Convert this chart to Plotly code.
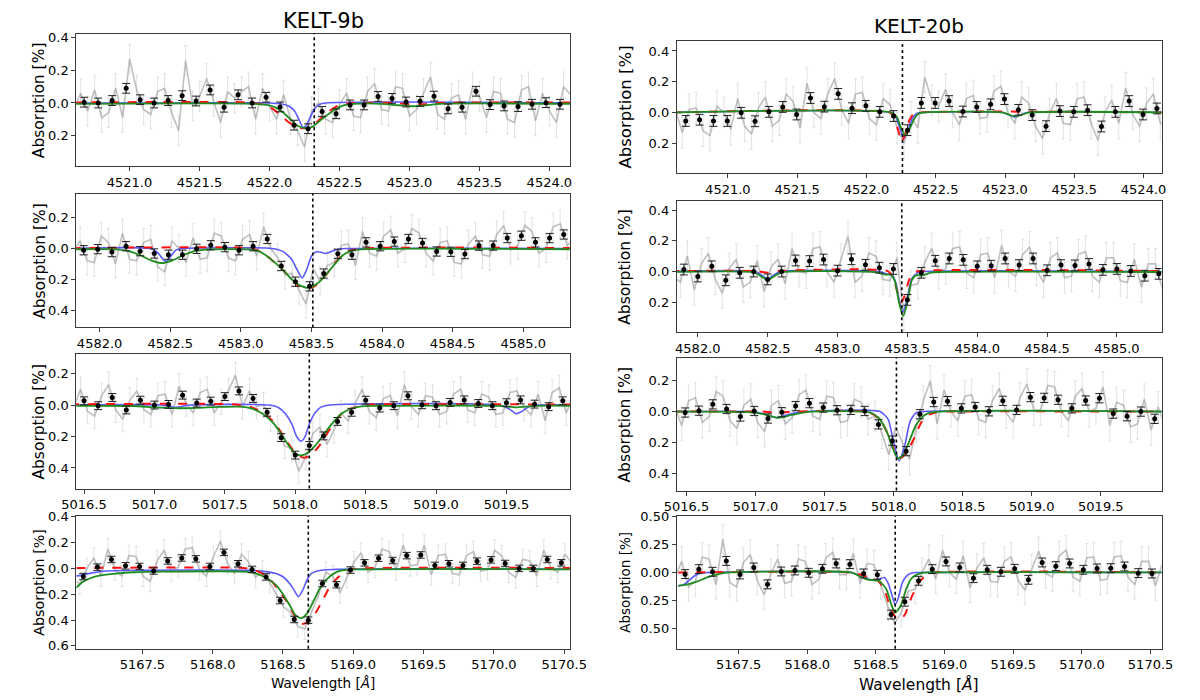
import numpy as np
import plotly.graph_objects as go

BIN_STEP = 0.1
GREY_STEP = 0.05

# =================== KELT-9b, 4522 ===================
k9a_xrange = [4520.62, 4524.146]
k9a_yrange = [0.388, -0.426]
k9a_xticks = [4521.0, 4521.5, 4522.0, 4522.5, 4523.0, 4523.5, 4524.0]
k9a_yticks = [-0.4, -0.2, 0.0, 0.2]
k9a_line = 4522.32
k9a_bin_start = 4520.676
k9a_bin_err = 0.03
k9a_bins = [-0.005, 0.0, -0.015, -0.09, -0.02, 0.0, -0.015, -0.045, -0.012, -0.08, 0.026, -0.05,
            0.0, -0.035, 0.024, 0.136, 0.158, 0.052, 0.066, 0.012, 0.012, -0.04, -0.028, -0.006,
            -0.01, -0.042, 0.036, 0.026, -0.072, 0.01, 0.018, 0.022, 0.008, -0.002, 0.008]
k9a_grey_err = 0.09
k9a_grey = [0.04,
            -0.06, 0.05, -0.08, 0.09, 0.06, -0.09, 0.09, -0.27, -0.08, 0.04, 0.07, -0.07, -0.09, 0.06,
            0.17, -0.26, 0.02, -0.04, -0.15, -0.01, 0.12, -0.07, -0.03, -0.07, -0.1, 0.1, -0.09, 0.02,
            0.1, -0.05, 0.1, 0.17, 0.27, 0.05, 0.0, 0.1, 0.12, 0.01, -0.06, 0.08, 0.09, -0.07,
            -0.12, 0.04, 0.05, -0.1, -0.09, 0.08, 0.04, -0.06, -0.16, 0.07, 0.1, -0.03, -0.05, 0.1,
            -0.1, -0.04, 0.09, -0.07, -0.06, 0.1, 0.12, -0.08, -0.1, 0.11, -0.06, 0.05, 0.12, -0.1,
            -0.05]
k9a_blue_x = [4520.60, 4522.00, 4522.08, 4522.14, 4522.18, 4522.21, 4522.24, 4522.26, 4522.29, 4522.32, 4522.35, 4522.40, 4524.20]
k9a_blue_y = [0.0, 0.0, 0.005, 0.02, 0.05, 0.10, 0.15, 0.14, 0.09, 0.04, 0.012, 0.0, 0.0]
k9a_red_x = [4520.60, 4521.85, 4521.95, 4522.02, 4522.08, 4522.14, 4522.20, 4522.26, 4522.31, 4522.36, 4522.42, 4522.47, 4522.53, 4522.60, 4522.90, 4523.0, 4523.1, 4523.2, 4524.2]
k9a_red_y = [-0.003, -0.003, 0.01, 0.035, 0.075, 0.12, 0.15, 0.155, 0.14, 0.10, 0.055, 0.025, 0.006, 0.0, 0.0, 0.008, 0.008, 0.0, -0.003]
k9a_green_x = [4520.60, 4521.90, 4521.98, 4522.05, 4522.10, 4522.15, 4522.20, 4522.26, 4522.31, 4522.36, 4522.42, 4522.47, 4522.52, 4522.60, 4522.80, 4522.92, 4523.02, 4523.12, 4523.22, 4524.2]
k9a_green_y = [0.005, 0.005, 0.012, 0.03, 0.06, 0.10, 0.14, 0.155, 0.145, 0.11, 0.07, 0.04, 0.018, 0.006, 0.005, 0.014, 0.02, 0.014, 0.005, 0.005]

# =================== KELT-9b, 4583 ===================
k9b_xrange = [4581.835, 4585.33]
k9b_yrange = [0.511, -0.355]
k9b_xticks = [4582.0, 4582.5, 4583.0, 4583.5, 4584.0, 4584.5, 4585.0]
k9b_yticks = [-0.2, 0.0, 0.2, 0.4]
k9b_line = 4583.51
k9b_bin_start = 4581.887
k9b_bin_err = 0.03
k9b_bins = [0.011, 0.004, 0.023, -0.015, 0.017, 0.032, 0.040, 0.040, 0.002, -0.021, -0.009, 0.011,
            -0.015, -0.062, 0.113, 0.215, 0.245, 0.162, 0.034, 0.040, -0.040, -0.015, -0.045, -0.062,
            -0.036, 0.019, 0.021, 0.036, -0.019, -0.019, -0.068, -0.083, -0.040, -0.068, -0.091]
k9b_grey_err = 0.09
k9b_grey = [0.02,
            -0.05, 0.08, 0.09, -0.08, -0.04, 0.1, -0.1, 0.07, 0.08, -0.04, -0.06, 0.12, 0.15, -0.05,
            0.0, 0.09, -0.07, 0.07, 0.06, -0.1, -0.08, 0.06, 0.08, -0.06, -0.09, 0.05, -0.14, 0.0,
            0.06, 0.17, 0.16, 0.27, 0.36, 0.13, 0.21, 0.11, 0.09, -0.02, -0.03, 0.11, -0.11, 0.03,
            0.05, -0.08, -0.12, 0.03, 0.0, -0.13, -0.1, 0.03, 0.08, -0.04, -0.05, 0.09, 0.1, -0.03,
            -0.08, 0.04, 0.05, -0.09, -0.15, 0.01, -0.02, -0.15, -0.11, 0.03, 0.0, -0.14, -0.16, -0.02,
            -0.07]
k9b_blue_x = [4581.8, 4582.36, 4582.41, 4582.45, 4582.47, 4582.50, 4582.54, 4582.58, 4583.22, 4583.30, 4583.36, 4583.40, 4583.435, 4583.465, 4583.50, 4583.53, 4583.56, 4583.60, 4583.64, 4583.69, 4583.75, 4585.4]
k9b_blue_y = [0.0, 0.0, 0.025, 0.07, 0.085, 0.055, 0.01, 0.0, 0.0, 0.02, 0.07, 0.14, 0.19, 0.14, 0.05, 0.022, 0.022, 0.032, 0.02, 0.005, 0.0, 0.0]
k9b_red_x = [4581.8, 4583.05, 4583.12, 4583.18, 4583.24, 4583.30, 4583.35, 4583.40, 4583.47, 4583.52, 4583.575, 4583.63, 4583.68, 4583.72, 4583.77, 4583.85, 4585.4]
k9b_red_y = [-0.003, -0.003, 0.012, 0.045, 0.09, 0.14, 0.19, 0.235, 0.26, 0.245, 0.2, 0.14, 0.08, 0.04, 0.015, 0.0, -0.003]
k9b_green_x = [4581.8, 4582.12, 4582.20, 4582.28, 4582.36, 4582.44, 4582.52, 4582.60, 4582.68, 4582.78, 4583.05, 4583.12, 4583.18, 4583.24, 4583.30, 4583.35, 4583.40, 4583.47, 4583.52, 4583.575, 4583.63, 4583.68, 4583.72, 4583.77, 4583.85, 4585.4]
k9b_green_y = [0.005, 0.005, 0.015, 0.04, 0.075, 0.095, 0.075, 0.04, 0.015, 0.005, 0.005, 0.015, 0.045, 0.09, 0.14, 0.19, 0.23, 0.255, 0.24, 0.2, 0.14, 0.085, 0.045, 0.02, 0.006, 0.005]

# =================== KELT-9b, 5018 ===================
k9c_xrange = [5016.445, 5019.95]
k9c_yrange = [0.531, -0.325]
k9c_xticks = [5016.5, 5017.0, 5017.5, 5018.0, 5018.5, 5019.0, 5019.5]
k9c_yticks = [-0.2, 0.0, 0.2, 0.4]
k9c_line = 5018.10
k9c_bin_start = 5016.50
k9c_bin_err = 0.025
k9c_bins = [-0.027, 0.004, -0.048, 0.031, -0.031, 0.0, -0.004, -0.063, -0.013, -0.025, -0.054, -0.090,
            -0.042, 0.046, 0.207, 0.318, 0.257, 0.196, 0.104, 0.046, -0.031, 0.019, 0.004, -0.059,
            -0.002, 0.004, -0.017, -0.033, -0.010, 0.004, -0.015, -0.033, -0.006, 0.010, -0.027]
k9c_grey_err = 0.08
k9c_grey = [0.02,
            -0.1, 0.04, 0.07, -0.06, -0.13, 0.03, 0.09, -0.03, -0.09, 0.03, 0.06, -0.06, -0.07, 0.06,
            -0.12, -0.01, 0.05, -0.08, -0.1, 0.05, -0.02, -0.09, -0.19, 0.01, -0.09, 0.01, 0.0, 0.09,
            0.15, 0.26, 0.28, 0.42, 0.33, 0.18, 0.14, 0.25, 0.16, 0.05, 0.1, -0.01, -0.1, 0.04,
            0.08, -0.04, -0.06, 0.07, -0.13, 0.01, 0.06, -0.06, -0.05, 0.06, 0.04, -0.07, -0.1, 0.03,
            0.05, -0.07, -0.05, 0.06, 0.05, -0.08, -0.09, 0.02, 0.06, -0.07, 0.1, -0.08, -0.11, 0.05,
            -0.06]
k9c_blue_x = [5016.4, 5017.05, 5017.15, 5017.25, 5017.82, 5017.88, 5017.93, 5017.975, 5018.01, 5018.04, 5018.07, 5018.10, 5018.14, 5018.18, 5018.24, 5019.45, 5019.52, 5019.57, 5019.61, 5019.66, 5019.72, 5020.0]
k9c_blue_y = [0.0, 0.0, 0.015, 0.0, 0.0, 0.015, 0.055, 0.12, 0.2, 0.23, 0.2, 0.12, 0.05, 0.015, 0.0, 0.0, 0.025, 0.055, 0.04, 0.01, 0.0, 0.0]
k9c_red_x = [5016.4, 5017.55, 5017.68, 5017.76, 5017.84, 5017.89, 5017.94, 5018.00, 5018.06, 5018.11, 5018.17, 5018.22, 5018.27, 5018.32, 5018.39, 5018.47, 5018.55, 5020.0]
k9c_red_y = [-0.005, -0.005, 0.01, 0.045, 0.10, 0.16, 0.23, 0.305, 0.335, 0.32, 0.26, 0.19, 0.12, 0.065, 0.025, 0.005, -0.003, -0.003]
k9c_green_x = [5016.4, 5016.85, 5017.0, 5017.15, 5017.30, 5017.45, 5017.60, 5017.68, 5017.76, 5017.84, 5017.89, 5017.94, 5018.00, 5018.04, 5018.08, 5018.14, 5018.20, 5018.26, 5018.32, 5018.39, 5018.47, 5018.55, 5019.45, 5019.57, 5019.70, 5020.0]
k9c_green_y = [0.005, 0.006, 0.015, 0.02, 0.018, 0.012, 0.01, 0.02, 0.05, 0.11, 0.17, 0.24, 0.31, 0.32, 0.31, 0.26, 0.19, 0.12, 0.06, 0.025, 0.008, 0.005, 0.005, 0.015, 0.005, 0.005]

# =================== KELT-9b, 5169 ===================
k9d_xrange = [5167.03, 5170.54]
k9d_yrange = [0.623, -0.405]
k9d_xticks = [5167.5, 5168.0, 5168.5, 5169.0, 5169.5, 5170.0, 5170.5]
k9d_yticks = [-0.4, -0.2, 0.0, 0.2, 0.4, 0.6]
k9d_line = 5168.68
k9d_bin_start = 5167.08
k9d_bin_err = 0.025
k9d_bins = [0.063, -0.010, -0.069, -0.020, -0.015, 0.020, -0.058, -0.081, -0.074, -0.015, -0.124, -0.036,
            0.008, 0.066, 0.249, 0.396, 0.401, 0.117, 0.127, 0.013, -0.043, -0.079, -0.061, -0.099,
            -0.104, -0.023, -0.036, -0.023, -0.056, -0.066, -0.038, 0.0, 0.0, -0.069, -0.043]
k9d_grey_err = 0.08
k9d_grey = [0.08,
            0.12, 0.0, -0.08, 0.06, -0.15, 0.01, 0.06, -0.1, -0.09, 0.06, 0.1, -0.06, -0.14, 0.02,
            -0.01, -0.15, -0.16, 0.01, 0.06, -0.09, -0.21, -0.04, 0.04, -0.11, -0.05, 0.07, 0.02, 0.11,
            0.2, 0.3, 0.34, 0.45, 0.47, 0.33, 0.2, 0.03, 0.06, 0.19, 0.07, -0.05, -0.12, 0.03,
            -0.01, -0.15, -0.13, 0.01, -0.18, -0.02, -0.03, -0.18, 0.05, -0.1, -0.11, 0.04, 0.05, -0.1,
            -0.13, 0.02, 0.01, -0.14, -0.1, 0.03, 0.07, -0.07, -0.06, 0.06, -0.14, 0.0, 0.03, -0.11,
            -0.04]
k9d_blue_x = [5167.03, 5167.08, 5167.14, 5167.22, 5167.35, 5168.28, 5168.38, 5168.45, 5168.50, 5168.55, 5168.58, 5168.61, 5168.64, 5168.67, 5168.70, 5168.75, 5168.85, 5170.6]
k9d_blue_y = [0.06, 0.05, 0.035, 0.022, 0.016, 0.015, 0.025, 0.04, 0.065, 0.12, 0.17, 0.22, 0.17, 0.09, 0.04, 0.018, 0.008, 0.006]
k9d_red_x = [5167.03, 5168.22, 5168.29, 5168.37, 5168.42, 5168.47, 5168.53, 5168.58, 5168.63, 5168.68, 5168.74, 5168.79, 5168.84, 5168.90, 5168.95, 5169.00, 5169.08, 5170.6]
k9d_red_y = [-0.003, -0.003, 0.01, 0.05, 0.10, 0.17, 0.26, 0.36, 0.43, 0.415, 0.33, 0.23, 0.13, 0.06, 0.02, 0.005, -0.002, -0.003]
k9d_green_x = [5167.03, 5167.07, 5167.12, 5167.20, 5167.31, 5167.44, 5167.65, 5168.22, 5168.31, 5168.39, 5168.45, 5168.50, 5168.55, 5168.59, 5168.63, 5168.67, 5168.71, 5168.76, 5168.82, 5168.87, 5168.92, 5169.00, 5170.6]
k9d_green_y = [0.15, 0.11, 0.08, 0.055, 0.04, 0.03, 0.025, 0.025, 0.04, 0.08, 0.13, 0.2, 0.29, 0.365, 0.385, 0.35, 0.27, 0.16, 0.075, 0.035, 0.016, 0.008, 0.008]

# =================== KELT-20b, 4522 ===================
k20a_xrange = [4520.632, 4524.13]
k20a_yrange = [0.394, -0.462]
k20a_xticks = [4521.0, 4521.5, 4522.0, 4522.5, 4523.0, 4523.5, 4524.0]
k20a_yticks = [-0.4, -0.2, 0.0, 0.2]
k20a_line = 4522.26
k20a_bin_start = 4520.696
k20a_bin_err = 0.035
k20a_bins = [0.055, 0.047, 0.055, 0.055, 0.002, 0.057, -0.004, -0.036, 0.013, -0.094, -0.038, -0.121,
             -0.028, -0.043, -0.004, 0.023, 0.115, -0.062, -0.062, -0.074, -0.006, -0.036, -0.053, -0.087,
             -0.017, 0.017, 0.089, -0.009, -0.004, -0.015, 0.091, -0.004, -0.074, 0.013, -0.026]
k20a_grey_err = 0.1
k20a_grey = [-0.02,
             0.13, -0.02, -0.03, 0.12, 0.15, -0.04, 0.0, 0.11, -0.09, 0.09, 0.14, -0.03, -0.1, 0.09,
             0.05, -0.12, -0.07, 0.1, -0.19, 0.0, 0.04, -0.12, -0.22, -0.02, 0.07, -0.12, -0.13, 0.04,
             0.08, -0.09, -0.05, 0.1, 0.2, 0.03, 0.1, -0.23, -0.08, -0.04, -0.15, 0.0, 0.08, -0.09,
             -0.11, 0.04, 0.03, -0.14, -0.17, 0.0, 0.07, -0.1, -0.06, 0.09, 0.17, 0.01, -0.09, 0.07,
             0.08, -0.09, -0.1, 0.07, 0.18, 0.0, -0.08, 0.07, -0.16, 0.01, 0.09, -0.06, -0.12, 0.07,
             0.1]
k20a_blue_x = [4520.6, 4522.18, 4522.21, 4522.24, 4522.27, 4522.30, 4522.33, 4522.36, 4522.40, 4522.98, 4523.04, 4523.07, 4523.10, 4523.16, 4524.2]
k20a_blue_y = [0.0, 0.0, 0.025, 0.10, 0.17, 0.12, 0.04, 0.008, 0.0, 0.0, 0.02, 0.03, 0.02, 0.0, 0.0]
k20a_red_x = [4520.6, 4522.17, 4522.20, 4522.23, 4522.255, 4522.28, 4522.31, 4522.34, 4522.38, 4524.2]
k20a_red_y = [0.0, 0.0, 0.03, 0.12, 0.19, 0.14, 0.05, 0.01, 0.0, 0.0]
k20a_green_x = [4520.6, 4522.18, 4522.22, 4522.25, 4522.28, 4522.31, 4522.34, 4522.37, 4522.41, 4522.98, 4523.04, 4523.08, 4523.12, 4523.18, 4524.2]
k20a_green_y = [0.0, 0.0, 0.03, 0.1, 0.15, 0.11, 0.05, 0.012, 0.0, 0.0, 0.018, 0.025, 0.015, 0.0, 0.0]

# =================== KELT-20b, 4583 ===================
k20b_xrange = [4581.85, 4585.32]
k20b_yrange = [0.395, -0.461]
k20b_xticks = [4582.0, 4582.5, 4583.0, 4583.5, 4584.0, 4584.5, 4585.0]
k20b_yticks = [-0.4, -0.2, 0.0, 0.2]
k20b_line = 4583.46
k20b_bin_start = 4581.90
k20b_bin_err = 0.035
k20b_bins = [-0.013, 0.032, -0.034, 0.057, 0.008, 0.0, 0.051, 0.0, -0.072, -0.068, -0.078, -0.006,
             -0.080, -0.044, -0.025, -0.017, 0.184, 0.008, -0.070, -0.085, -0.076, -0.034, -0.038, -0.085,
             -0.042, -0.085, -0.008, -0.042, -0.040, -0.049, -0.011, -0.017, -0.004, 0.027, 0.015]
k20b_grey_err = 0.1
k20b_grey = [0.03,
             0.07, -0.1, 0.12, -0.05, -0.12, 0.05, 0.14, -0.02, -0.08, 0.1, 0.07, -0.07, 0.13, -0.03,
             -0.08, 0.08, -0.15, 0.0, 0.01, -0.15, -0.16, 0.0, 0.07, -0.08, -0.23, 0.07, 0.03, -0.12,
             -0.1, 0.05, 0.06, -0.09, 0.28, 0.09, 0.08, -0.06, -0.15, 0.01, -0.02, -0.15, -0.16, 0.01,
             0.04, -0.11, -0.12, 0.04, -0.17, 0.0, 0.03, -0.11, -0.16, -0.01, 0.07, -0.09, -0.12, 0.04,
             0.03, -0.11, -0.13, 0.03, 0.07, -0.09, -0.09, 0.06, 0.07, -0.08, 0.1, -0.05, -0.05, 0.11,
             0.08]
k20b_blue_x = [4581.8, 4582.41, 4582.46, 4582.50, 4582.54, 4582.59, 4583.30, 4583.35, 4583.39, 4583.42, 4583.445, 4583.47, 4583.50, 4583.53, 4583.57, 4583.62, 4585.4]
k20b_blue_y = [0.0, 0.0, 0.025, 0.05, 0.025, 0.0, 0.0, 0.015, 0.02, 0.08, 0.2, 0.26, 0.17, 0.05, 0.01, 0.0, 0.0]
k20b_red_x = [4581.8, 4582.42, 4582.50, 4582.58, 4583.36, 4583.40, 4583.43, 4583.455, 4583.48, 4583.51, 4583.54, 4583.58, 4585.4]
k20b_red_y = [-0.003, -0.003, 0.008, -0.003, -0.003, 0.04, 0.14, 0.2, 0.16, 0.06, 0.01, -0.003, -0.003]
k20b_green_x = [4581.8, 4582.40, 4582.45, 4582.50, 4582.55, 4582.60, 4583.28, 4583.34, 4583.38, 4583.41, 4583.44, 4583.47, 4583.50, 4583.53, 4583.56, 4583.61, 4583.66, 4583.72, 4585.4]
k20b_green_y = [0.003, 0.005, 0.028, 0.055, 0.028, 0.005, 0.005, 0.02, 0.02, 0.06, 0.2, 0.29, 0.2, 0.06, 0.025, 0.025, 0.008, 0.003, 0.003]

# =================== KELT-20b, 5018 ===================
k20c_xrange = [5016.43, 5019.94]
k20c_yrange = [0.513, -0.349]
k20c_xticks = [5016.5, 5017.0, 5017.5, 5018.0, 5018.5, 5019.0, 5019.5]
k20c_yticks = [-0.2, 0.0, 0.2, 0.4]
k20c_line = 5018.02
k20c_bin_start = 5016.49
k20c_bin_err = 0.03
k20c_bins = [0.006, -0.006, -0.047, -0.017, 0.032, -0.004, 0.045, 0.004, -0.036, -0.055, -0.026, -0.009,
             -0.011, -0.004, 0.083, 0.189, 0.257, 0.017, -0.062, -0.068, -0.021, -0.030, -0.002, -0.070,
             -0.011, -0.094, -0.089, -0.077, -0.021, -0.072, -0.087, 0.013, 0.030, 0.0, 0.047]
k20c_grey_err = 0.1
k20c_grey = [-0.03,
             0.09, -0.07, -0.09, 0.07, 0.03, -0.13, -0.1, 0.06, 0.11, -0.04, -0.08, 0.07, 0.13, -0.04,
             -0.07, 0.08, 0.04, -0.11, -0.14, 0.03, 0.05, -0.1, -0.09, 0.07, 0.06, -0.08, -0.06, 0.05,
             0.03, 0.14, 0.28, 0.1, 0.2, 0.31, 0.1, -0.07, -0.2, 0.08, -0.14, 0.0, 0.06, -0.1,
             -0.11, 0.05, 0.07, -0.07, -0.15, 0.01, 0.07, -0.09, -0.18, -0.01, -0.01, -0.17, -0.16, 0.0,
             0.06, -0.1, -0.15, 0.0, -0.02, -0.16, 0.09, -0.06, -0.04, 0.1, 0.08, -0.08, 0.12, -0.03,
             0.1]
k20c_blue_x = [5016.4, 5016.97, 5017.06, 5017.15, 5017.25, 5017.35, 5017.90, 5017.96, 5018.00, 5018.04, 5018.08, 5018.12, 5018.16, 5018.20, 5020.0]
k20c_blue_y = [0.0, 0.0, 0.015, 0.04, 0.015, 0.0, 0.0, 0.05, 0.2, 0.32, 0.22, 0.06, 0.01, 0.0, 0.0]
k20c_red_x = [5016.4, 5017.05, 5017.16, 5017.27, 5017.82, 5017.90, 5017.96, 5018.01, 5018.05, 5018.09, 5018.15, 5018.20, 5018.26, 5018.31, 5018.38, 5020.0]
k20c_red_y = [0.0, 0.0, 0.008, 0.0, 0.004, 0.05, 0.15, 0.26, 0.3, 0.27, 0.17, 0.07, 0.02, 0.004, 0.0, 0.0]
k20c_green_x = [5016.4, 5016.95, 5017.05, 5017.16, 5017.27, 5017.38, 5017.82, 5017.89, 5017.95, 5017.99, 5018.03, 5018.07, 5018.11, 5018.16, 5018.22, 5018.28, 5020.0]
k20c_green_y = [0.0, 0.003, 0.015, 0.04, 0.02, 0.002, 0.004, 0.04, 0.13, 0.23, 0.305, 0.28, 0.2, 0.09, 0.025, 0.004, 0.0]

# =================== KELT-20b, 5169 ===================
k20d_xrange = [5167.05, 5170.58]
k20d_yrange = [0.687, -0.507]
k20d_xticks = [5167.5, 5168.0, 5168.5, 5169.0, 5169.5, 5170.0, 5170.5]
k20d_yticks = [-0.5, -0.25, 0.0, 0.25, 0.5]
k20d_line = 5168.64
k20d_bin_start = 5167.11
k20d_bin_err = 0.04
k20d_bins = [0.015, -0.030, -0.006, -0.104, 0.018, -0.045, 0.107, -0.009, -0.018, 0.003, -0.033, -0.081,
             -0.075, 0.009, 0.021, 0.379, 0.263, 0.075, -0.030, -0.099, -0.045, 0.051, -0.024, -0.006,
             -0.033, 0.066, -0.090, -0.057, -0.081, -0.024, -0.036, -0.039, -0.054, 0.006, 0.009]
k20d_grey_err = 0.13
k20d_grey = [0.05,
             -0.1, 0.13, 0.08, -0.14, -0.12, 0.11, -0.3, 0.09, 0.13, -0.09, -0.16, 0.07, 0.2, 0.01,
             -0.12, 0.1, 0.08, -0.12, -0.1, 0.11, 0.06, -0.13, -0.18, 0.02, 0.02, -0.17, 0.1, -0.08,
             -0.07, 0.11, 0.3, 0.46, 0.36, 0.17, 0.15, 0.0, -0.12, 0.06, -0.2, 0.0, 0.06, -0.15,
             0.14, -0.04, -0.13, 0.08, 0.09, -0.1, -0.14, 0.07, 0.16, -0.03, -0.19, 0.01, 0.04, -0.15,
             -0.2, 0.04, 0.08, -0.13, -0.14, 0.07, 0.06, -0.14, -0.15, 0.04, 0.11, -0.1, -0.1, 0.12,
             -0.08]
k20d_blue_x = [5167.06, 5167.10, 5167.14, 5167.18, 5167.22, 5167.28, 5168.32, 5168.38, 5168.44, 5168.50, 5168.56, 5168.59, 5168.615, 5168.64, 5168.665, 5168.69, 5168.72, 5168.76, 5168.80, 5170.6]
k20d_blue_y = [0.12, 0.11, 0.07, 0.03, 0.008, 0.0, 0.0, 0.03, 0.06, 0.07, 0.045, 0.1, 0.2, 0.29, 0.22, 0.1, 0.035, 0.005, 0.0, 0.0]
k20d_red_x = [5167.06, 5168.32, 5168.39, 5168.44, 5168.51, 5168.56, 5168.60, 5168.64, 5168.67, 5168.71, 5168.76, 5168.82, 5168.87, 5168.93, 5170.6]
k20d_red_y = [0.0, 0.0, 0.02, 0.04, 0.07, 0.15, 0.3, 0.4, 0.43, 0.38, 0.22, 0.08, 0.02, 0.0, 0.0]
k20d_green_x = [5167.06, 5167.12, 5167.20, 5167.28, 5167.36, 5167.44, 5168.32, 5168.39, 5168.44, 5168.52, 5168.575, 5168.615, 5168.64, 5168.68, 5168.72, 5168.76, 5168.82, 5168.88, 5170.6]
k20d_green_y = [0.12, 0.11, 0.08, 0.04, 0.012, 0.0, 0.0, 0.04, 0.065, 0.075, 0.15, 0.3, 0.36, 0.3, 0.15, 0.05, 0.008, 0.0, 0.0]

planet_titles = ["KELT-9b", "KELT-20b"]
ylabel_text = "Absorption [%]"
xlabel_text = "Wavelength [<i>Å</i>]"

# ---------------- assemble panels (table built from the arrays) ----------------
def pack(prefix):
    g = globals()
    return {k: g[prefix + "_" + k] for k in
            ["xrange", "yrange", "xticks", "yticks", "line", "bin_start", "bin_err", "bins",
             "grey_err", "grey", "blue_x", "blue_y", "red_x", "red_y", "green_x", "green_y"]}

panels = [pack(p) for p in ["k9a", "k20a", "k9b", "k20b", "k9c", "k20c", "k9d", "k20d"]]

# layout geometry in pixels (figure 1200 x 700)
W, H = 1200, 700
col_x = [(63, 570), (680, 1178)]
rows_left = [(27, 162), (190, 326), (353, 490), (518, 653)]
rows_right = [(35, 169), (197, 331), (357, 492), (518, 653)]
ylab_size = [15.5, 16.5, 15.5, 15.5, 15.5, 15.5, 14.3, 13.5]

FRAME = "#3a3a3a"
fig = go.Figure()
layout = dict(width=W, height=H, margin=dict(l=0, r=0, t=0, b=0),
              paper_bgcolor="white", plot_bgcolor="white", showlegend=False,
              font=dict(family="DejaVu Sans", color="black"))
shapes, annotations = [], []

for i, p in enumerate(panels):
    n = i + 1
    suf = "" if n == 1 else str(n)
    col = i % 2
    row = i // 2
    x0, x1 = col_x[col]
    top, bot = (rows_left if col == 0 else rows_right)[row]
    xa, ya = "x" + suf, "y" + suf
    xdom = [x0 / W, x1 / W]
    ydom = [1 - bot / H, 1 - top / H]

    bx = p["bin_start"] + BIN_STEP * np.arange(len(p["bins"]))
    gx = p["bin_start"] - 0.075 + GREY_STEP * np.arange(len(p["grey"]))

    fig.add_trace(go.Scatter(
        x=gx, y=p["grey"], mode="lines", xaxis=xa, yaxis=ya,
        line=dict(color="rgba(150,150,150,0.6)", width=1.6),
        error_y=dict(type="constant", value=p["grey_err"], color="rgba(200,200,200,0.5)",
                     thickness=1, width=1.5),
        hoverinfo="skip"))
    fig.add_trace(go.Scatter(x=p["blue_x"], y=p["blue_y"], mode="lines", xaxis=xa, yaxis=ya,
                             line=dict(color="#5a5aff", width=1.6, shape="spline", smoothing=0.6)))
    fig.add_trace(go.Scatter(x=p["red_x"], y=p["red_y"], mode="lines", xaxis=xa, yaxis=ya,
                             line=dict(color="#ff1010", width=2.0, dash="dash", shape="spline", smoothing=0.6)))
    fig.add_trace(go.Scatter(x=p["green_x"], y=p["green_y"], mode="lines", xaxis=xa, yaxis=ya,
                             line=dict(color="#1e8c1e", width=1.8, shape="spline", smoothing=0.6)))
    fig.add_trace(go.Scatter(
        x=bx, y=p["bins"], mode="markers", xaxis=xa, yaxis=ya,
        marker=dict(color="black", size=5),
        error_y=dict(type="constant", value=p["bin_err"], color="#222222", thickness=1, width=4)))

    dec = 2 if any(abs(v * 10 - round(v * 10)) > 1e-9 for v in p["yticks"]) else 1
    ticktext = [f"{abs(v):.{dec}f}" for v in p["yticks"]]

    axcommon = dict(showline=True, mirror=True, linecolor=FRAME, linewidth=1,
                    ticks="outside", ticklen=4, tickcolor=FRAME, showgrid=False, zeroline=False,
                    tickfont=dict(size=13, family="DejaVu Sans", color="black"))
    layout["xaxis" + suf] = dict(domain=xdom, range=p["xrange"], anchor=ya, tickvals=p["xticks"],
                                 tickformat=".1f", **axcommon)
    layout["yaxis" + suf] = dict(domain=ydom, range=p["yrange"], anchor=xa, tickvals=p["yticks"],
                                 ticktext=ticktext, **axcommon)

    shapes.append(dict(type="line", xref=xa, yref=ya + " domain", x0=p["line"], x1=p["line"],
                       y0=0, y1=1, line=dict(color="black", width=1.6, dash="dot")))

    lab_x = 25 if col == 0 else 627
    annotations.append(dict(text=ylabel_text, xref="paper", yref="paper",
                            x=lab_x / W, y=1 - (top + bot) / 2 / H, showarrow=False,
                            xanchor="center", yanchor="middle",
                            textangle=-90, font=dict(size=ylab_size[i], family="DejaVu Sans")))

# titles
annotations.append(dict(text=planet_titles[0], xref="paper", yref="paper", x=(63 + 570) / 2 / W,
                        y=1 - 14 / H, showarrow=False, xanchor="center", yanchor="middle",
                        font=dict(size=21, family="DejaVu Sans")))
annotations.append(dict(text=planet_titles[1], xref="paper", yref="paper", x=(680 + 1178) / 2 / W,
                        y=1 - 19 / H, showarrow=False, xanchor="center", yanchor="middle",
                        font=dict(size=20, family="DejaVu Sans")))
# x labels
annotations.append(dict(text=xlabel_text, xref="paper", yref="paper", x=(63 + 570) / 2 / W,
                        y=1 - 688 / H, showarrow=False, xanchor="center", yanchor="middle",
                        font=dict(size=13.5, family="DejaVu Sans")))
annotations.append(dict(text=xlabel_text, xref="paper", yref="paper", x=(680 + 1178) / 2 / W,
                        y=1 - 689 / H, showarrow=False, xanchor="center", yanchor="middle",
                        font=dict(size=15.5, family="DejaVu Sans")))

layout["shapes"] = shapes
layout["annotations"] = annotations
fig.update_layout(**layout)
fig.write_html("out.html", config={"displayModeBar": False},
               post_script="document.body.style.margin='0px';document.body.style.overflow='hidden';")
